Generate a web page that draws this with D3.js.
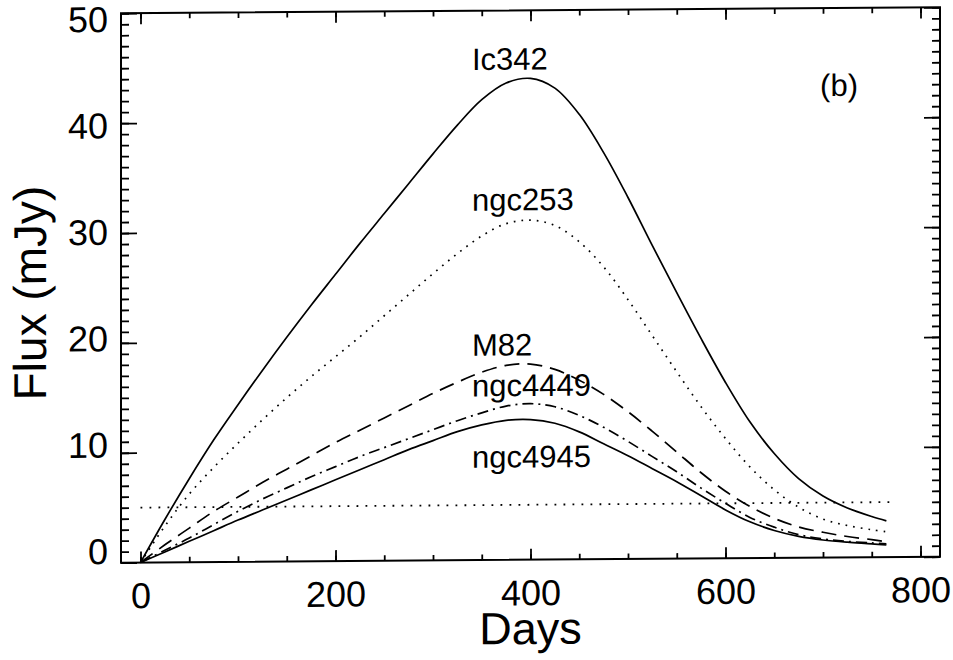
<!DOCTYPE html>
<html><head><meta charset="utf-8">
<script src="https://cdn.jsdelivr.net/npm/d3@7"></script>
<style>
body{margin:0;background:#fff}
svg{display:block}
text{font-family:"Liberation Sans",Arial,Helvetica,sans-serif;fill:#000}
</style>
</head><body>
<svg id="chart" width="953" height="660"></svg>
<script>
// ---- data ----
const days     = [0,25,50,75,100,125,150,175,200,225,250,275,300,325,350,375,400,425,450,475,500,525,550,575,600,625,650,675,700,725,750,765];
const ic342    = [0,3.9,7.6,11.1,14.3,17.4,20.4,23.3,26.1,28.9,31.6,34.3,37.0,39.6,41.9,43.4,43.8,42.9,40.5,37.0,32.9,28.5,24.2,20.0,16.0,12.4,9.5,7.2,5.6,4.5,3.7,3.3];
const ngc253   = [0,3.3,6.2,8.6,10.8,12.9,14.9,16.8,18.6,20.4,22.3,24.2,26.1,27.9,29.5,30.6,30.9,30.4,28.9,26.6,23.6,20.3,17.0,13.8,10.9,8.3,6.2,4.6,3.5,2.9,2.5,2.3];
const m82      = [0,1.6,3.1,4.6,5.9,7.2,8.4,9.6,10.8,11.9,13.0,14.1,15.2,16.2,17.1,17.7,17.8,17.3,16.3,15.0,13.4,11.6,9.7,7.8,6.1,4.7,3.6,2.8,2.3,1.9,1.6,1.4];
const ngc4449  = [0,1.1,2.2,3.4,4.6,5.7,6.7,7.7,8.6,9.5,10.3,11.1,11.9,12.7,13.4,14.0,14.2,13.9,13.1,12.0,10.7,9.3,7.9,6.4,5.0,3.7,2.8,2.1,1.7,1.45,1.3,1.2];
const ngc4945  = [0,0.95,1.9,2.85,3.8,4.7,5.6,6.5,7.4,8.3,9.2,10.1,10.9,11.7,12.3,12.7,12.75,12.4,11.6,10.5,9.4,8.2,7.0,5.7,4.4,3.3,2.5,1.95,1.6,1.38,1.22,1.1];
const limitDays = [0, 770];
const limitFlux = [5, 5];

const seriesNames  = ["Ic342","ngc253","M82","ngc4449","ngc4945"];
const seriesValues = [ic342, ngc253, m82, ngc4449, ngc4945];
const seriesDash   = ["none","1.7,6","15,8","11,5,2,5","none"];
// label anchor points (days, flux) for the series names
const labelDays = [340, 340, 340, 340, 340];
const labelFlux = [44.6, 31.8, 18.6, 14.9, 8.4];

const xTicks = [0,200,400,600,800];
const xMinor = d3.range(0, 801, 50);
const yTicks = [0,10,20,30,40,50];
const yMinor = d3.range(0, 51, 1);

// ---- layout ----
const L = 121, R = 940, T = 13.3, B = 562.7;

const svg = d3.select("#chart");
const skew = -0.42;
const g = svg.append("g")
  .attr("transform", `translate(0,${-L*Math.tan(skew*Math.PI/180)}) skewY(${skew})`);

const x = d3.scaleLinear().domain([-20, 820]).range([L, R]);
const y = d3.scaleLinear().domain([0, 50]).range([B, T]);
// y tick labels sit on a slightly tighter scale in the original figure
const yLab = d3.scaleLinear().domain([0, 50]).range([551, 19]);

function styleAxis(sel){
  sel.select(".domain").remove();
  sel.selectAll(".tick line").attr("stroke","#000").attr("stroke-width",1.8);
}
const fs = 36;
// bottom / top
g.append("g").attr("transform",`translate(0,${B})`)
  .call(d3.axisBottom(x).tickValues(xMinor).tickSize(-5.5).tickFormat(""))
  .call(styleAxis);
g.append("g").attr("transform",`translate(0,${B})`)
  .call(d3.axisBottom(x).tickValues(xTicks).tickSize(-11).tickPadding(20).tickFormat(d3.format("d")))
  .call(styleAxis)
  .call(s=>s.selectAll("text").attr("font-size",fs).attr("fill","#000"));
g.append("g").attr("transform",`translate(0,${T})`)
  .call(d3.axisTop(x).tickValues(xMinor).tickSize(-5.5).tickFormat(""))
  .call(styleAxis);
g.append("g").attr("transform",`translate(0,${T})`)
  .call(d3.axisTop(x).tickValues(xTicks).tickSize(-11).tickFormat(""))
  .call(styleAxis);
// left / right
g.append("g").attr("transform",`translate(${L},0)`)
  .call(d3.axisLeft(y).tickValues(yMinor).tickSize(-8).tickFormat(""))
  .call(styleAxis);
g.append("g").attr("transform",`translate(${L},0)`)
  .call(d3.axisLeft(y).tickValues(yTicks).tickSize(-16).tickFormat(""))
  .call(styleAxis);
g.append("g").attr("transform",`translate(${R},0)`)
  .call(d3.axisRight(y).tickValues(yMinor).tickSize(-8).tickFormat(""))
  .call(styleAxis);
g.append("g").attr("transform",`translate(${R},0)`)
  .call(d3.axisRight(y).tickValues(yTicks).tickSize(-16).tickFormat(""))
  .call(styleAxis);
// left tick labels
g.append("g").selectAll("text").data(yTicks).join("text")
  .attr("x", L-13).attr("y", d=>yLab(d)).attr("dy","0.36em")
  .attr("text-anchor","end").attr("font-size",fs).text(d3.format("d"));

// frame
g.append("rect").attr("x",L).attr("y",T).attr("width",R-L).attr("height",B-T)
  .attr("fill","none").attr("stroke","#000").attr("stroke-width",2);

// curves
const line = d3.line().x((d,i)=>x(days[i])).y(d=>y(d)).curve(d3.curveCatmullRom.alpha(0.5));
seriesValues.forEach((vals,k)=>{
  g.append("path").datum(vals).attr("d",line)
    .attr("fill","none").attr("stroke","#000").attr("stroke-width",1.7)
    .attr("stroke-dasharray",seriesDash[k]);
});
// detection limit line
g.append("path")
  .datum(limitFlux)
  .attr("d", d3.line().x((d,i)=>x(limitDays[i])).y(d=>y(d)))
  .attr("fill","none").attr("stroke","#000").attr("stroke-width",1.8)
  .attr("stroke-dasharray","1.8,7.2");

// series labels
seriesNames.forEach((n,k)=>{
  g.append("text").attr("x",x(labelDays[k])).attr("y",y(labelFlux[k]))
    .attr("font-size",31).text(n);
});
g.append("text").attr("x",x(697)).attr("y",y(42.0)).attr("font-size",31).text("(b)");

// axis titles
g.append("text").attr("x",x(400)).attr("y",647).attr("text-anchor","middle")
  .attr("font-size",45).text("Days");
g.append("text").attr("transform",`translate(46,${y(24.6)}) rotate(-90)`)
  .attr("text-anchor","middle").attr("font-size",46).text("Flux (mJy)");
</script>
</body></html>
